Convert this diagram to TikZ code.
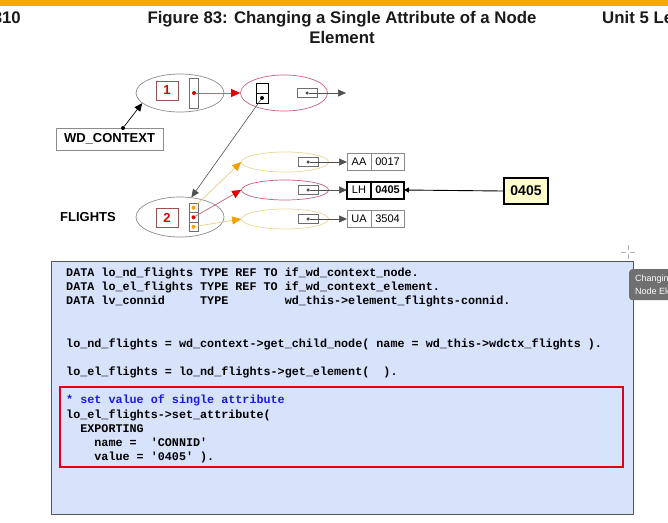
\documentclass[tikz,border=0pt]{standalone}
\usepackage{fontspec}
\setmainfont{Liberation Sans}
\setmonofont{Liberation Mono}
\usetikzlibrary{arrows.meta,positioning,shapes.geometric}
\definecolor{sapgold}{HTML}{F0AB00}
\definecolor{headtxt}{HTML}{1A1A1A}
\definecolor{ellgray}{HTML}{8C8C8C}
\definecolor{elred}{HTML}{C8607A}
\definecolor{elyellow}{HTML}{E6DA98}
\definecolor{dotred}{HTML}{E00000}
\definecolor{dotorange}{HTML}{F2A100}
\definecolor{idframe}{HTML}{A05050}
\definecolor{slotgray}{HTML}{6E6E6E}
\definecolor{ptrgray}{HTML}{505050}
\definecolor{cellgray}{HTML}{8A8A8A}
\definecolor{valfill}{HTML}{FFFFCC}
\definecolor{codebg}{HTML}{D7E2FB}
\definecolor{codeframe}{HTML}{555555}
\definecolor{hlred}{HTML}{E0001A}
\definecolor{kwblue}{HTML}{1B1BE0}
\definecolor{tipgray}{HTML}{707070}

\begin{document}
\begin{tikzpicture}[
  x=1pt, y=-1pt,
  >={Triangle[length=8pt,width=7pt]},
  head/.style={text=headtxt, inner sep=0pt, font=\fontsize{16.8}{20}\selectfont\bfseries},
  lbl/.style={inner sep=0pt, font=\fontsize{13}{13}\selectfont\bfseries},
  ctxell/.style={ellipse, draw=ellgray, line width=0.7pt, inner sep=0pt, minimum width=88pt, minimum height=38pt},
  nodeell/.style={ellipse, draw=elred, line width=0.7pt, inner sep=0pt, minimum width=87pt, minimum height=36pt},
  elemell/.style={ellipse, line width=0.7pt, inner sep=0pt, minimum width=87pt, minimum height=20pt},
  idbox/.style={draw=idframe, line width=0.7pt, inner sep=0pt, minimum width=22pt, minimum height=19pt, text=dotred, font=\fontsize{13}{13}\selectfont\bfseries},
  slot/.style={draw=slotgray, line width=0.7pt, inner sep=0pt, minimum width=9pt},
  refbox/.style={draw=slotgray, line width=0.7pt, inner sep=0pt, minimum width=20pt, minimum height=9pt},
  ptdot/.style={circle, fill=black, inner sep=0pt, minimum size=4pt},
  ptr/.style={->, draw=ptrgray, line width=0.7pt, >={Triangle[length=8pt,width=7pt,color=ptrgray]}},
  yelarr/.style={-{Triangle[length=9pt,width=8pt,color=dotorange]}, draw=elyellow!85!orange, line width=0.7pt},
  redarr/.style={-{Triangle[length=9pt,width=8pt,color=dotred]}, draw=elred, line width=0.7pt},
  cell/.style={draw=cellgray, line width=0.7pt, inner sep=0pt, outer sep=0pt, minimum height=17pt, font=\fontsize{11}{11}\selectfont},
  valbox/.style={draw=black, line width=2.5pt, fill=valfill, inner sep=0pt, minimum width=44pt, minimum height=26pt, font=\fontsize{14}{14}\selectfont\bfseries},
  code/.style={inner sep=0pt, align=left, font=\fontsize{11.75}{14.2}\selectfont\ttfamily\bfseries},
]
\useasboundingbox (0,0) rectangle (668,522);
\clip (0,0) rectangle (668,522);

% page header
\fill[sapgold] (0,0) rectangle (668,6);
\node[head, anchor=base east] (pageno) at (21,23) {310};
\node[head, anchor=base] (title1) at (342,23) {Figure 83: Changing a Single Attribute of a Node};
\node[head, anchor=base] (title2) at (342,43) {Element};
\node[head, anchor=base west] (unit) at (602,23) {Unit 5 Lesson 1};

% context root
\node[ctxell] (ctx) at (180,93) {};
\node[idbox] (id1) at (167,90.5) {1};
\node[slot, minimum height=30pt] (slot1) at (193.5,93) {};
\node[ptdot, fill=dotred] (d1) at (194,93) {};

\node[nodeell] (root) at (284,93) {};
\node[slot, draw=black, minimum width=12pt, minimum height=10pt] (s2a) at (262,88) {};
\node[slot, draw=black, minimum width=12pt, minimum height=10pt] (s2b) at (262,98) {};
\node[ptdot] (d2) at (262,98) {};
\node[refbox] (r2) at (307,93) {};
\node[ptdot, fill=ptrgray, minimum size=3.5pt] (d3) at (307,93) {};
\coordinate (r2end) at (346,93);

\node[draw=ellgray, line width=0.7pt, minimum width=107pt, minimum height=22pt, inner sep=0pt, lbl] (wdctx) at (109.5,139) {WD\_CONTEXT};
\node[ptdot] (wdd) at (123,128) {};

\draw[->, line width=0.7pt] (wdd) -- (ctx.195);
\draw[redarr] (d1) -- (root.west);
\draw[ptr] (d3) -- (r2end);

% node FLIGHTS
\node[lbl] (flab) at (88,217) {FLIGHTS};
\node[ctxell, minimum height=40pt] (fl) at (180,217) {};
\node[idbox] (id2) at (167,217.5) {2};
\node[slot, minimum height=9.5pt] (fs1) at (193.5,207.75) {};
\node[slot, minimum height=9.5pt] (fs2) at (193.5,217.25) {};
\node[slot, minimum height=9.5pt] (fs3) at (193.5,226.75) {};
\node[ptdot, fill=dotorange] (fd1) at (193.5,207.75) {};
\node[ptdot, fill=dotred] (fd2) at (193.5,217.25) {};
\node[ptdot, fill=dotorange] (fd3) at (193.5,226.75) {};

\draw[->, line width=0.6pt, draw=ptrgray] (d2) -- (fl.60);

% elements
\node[elemell, draw=elyellow] (e1) at (285,162) {};
\node[elemell, draw=elred] (e2) at (285,190) {};
\node[elemell, draw=elyellow] (e3) at (285,219) {};
\node[refbox] (er1) at (308,162) {};
\node[refbox] (er2) at (308,190) {};
\node[refbox] (er3) at (308,219) {};
\node[ptdot, fill=ptrgray, minimum size=3.5pt] (ed1) at (308,162) {};
\node[ptdot, fill=ptrgray, minimum size=3.5pt] (ed2) at (308,190) {};
\node[ptdot, fill=ptrgray, minimum size=3.5pt] (ed3) at (308,219) {};

\draw[yelarr] (fd1) -- (e1.west);
\draw[redarr] (fd2) -- (e2.west);
\draw[yelarr] (fd3) -- (e3.west);

% attribute values
\node[cell, minimum width=24pt] (c1a) at (359,162) {AA};
\node[cell, minimum width=33pt, right=0pt of c1a] (c1b) {0017};
\node[cell, minimum width=24pt, draw=black, line width=2pt] (c2a) at (359,190) {LH};
\node[cell, minimum width=33pt, draw=black, line width=2pt, right=0pt of c2a, font=\fontsize{11}{11}\selectfont\bfseries] (c2b) {0405};
\node[cell, minimum width=24pt] (c3a) at (359,219) {UA};
\node[cell, minimum width=33pt, right=0pt of c3a] (c3b) {3504};

\draw[ptr] (ed1) -- (c1a.west);
\draw[ptr] (ed2) -- (c2a.west);
\draw[ptr] (ed3) -- (c3a.west);

\node[valbox] (val) at (526,191) {0405};
\draw[-{Triangle[length=5pt,width=5pt]}, line width=0.9pt] (val.west) -- (c2b.east);

% source code
\node[draw=codeframe, fill=codebg, line width=1pt, minimum width=582pt, minimum height=253pt, inner sep=0pt] (panel) at (342,387.5) {};
\node[draw=hlred, line width=1.2pt, minimum width=563pt, minimum height=80pt, inner sep=0pt] (hl) at (341.5,427) {};
\node[code, anchor=north west] (src) at (66,267.3) {%
DATA lo\_nd\_flights TYPE REF TO if\_wd\_context\_node.\\
DATA lo\_el\_flights TYPE REF TO if\_wd\_context\_element.\\
DATA lv\_connid~~~~~TYPE~~~~~~~~wd\_this->element\_flights-connid.\\[28.4pt]
lo\_nd\_flights = wd\_context->get\_child\_node( name = wd\_this->wdctx\_flights ).\\[14.2pt]
lo\_el\_flights = lo\_nd\_flights->get\_element(~~).\\[14.2pt]
{\color{kwblue}* set value of single attribute}\\
lo\_el\_flights->set\_attribute(\\
~~EXPORTING\\
~~~~name =~~'CONNID'\\
~~~~value = '0405' ).};

% mouse cursor and tooltip
\draw[gray!60, line width=0.8pt] (628,245) -- (628,250) (628,254) -- (628,259) (621,252) -- (626,252) (630,252) -- (635,252);
\node[fill=tipgray, rounded corners=3pt, anchor=north west, minimum width=60pt, minimum height=31pt, inner xsep=6pt, inner ysep=3pt, align=left, text=white, font=\fontsize{9}{13}\selectfont] (tooltip) at (629,269) {Changing a\\Node Element};
\end{tikzpicture}
\end{document}
